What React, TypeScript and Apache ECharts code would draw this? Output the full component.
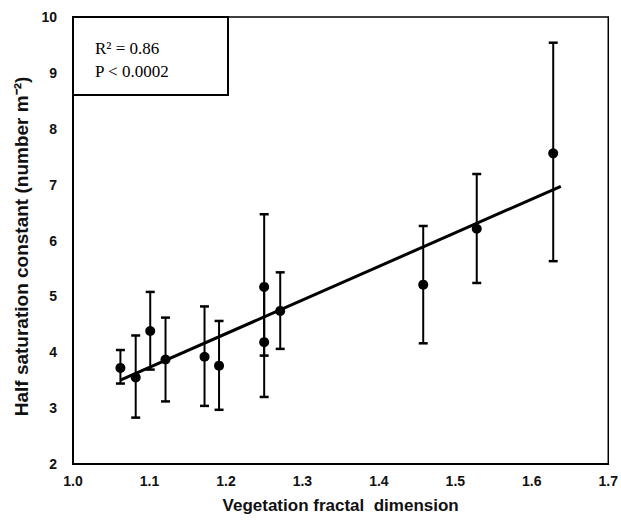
import React, { useEffect, useRef } from "react";
import * as echarts from "echarts";

const xValues = [1.062, 1.082, 1.101, 1.121, 1.172, 1.191, 1.25, 1.25, 1.271, 1.458, 1.528, 1.628];
const yValues = [3.72, 3.55, 4.38, 3.87, 3.92, 3.76, 5.17, 4.18, 4.74, 5.21, 6.21, 7.56];
const errLow = [3.44, 2.83, 3.69, 3.12, 3.04, 2.97, 3.94, 3.2, 4.06, 4.16, 5.24, 5.63];
const errHigh = [4.04, 4.3, 5.08, 4.62, 4.82, 4.56, 6.47, 5.16, 5.43, 6.26, 7.19, 9.54];
const fitX = [1.062, 1.638];
const fitY = [3.5, 6.97];
const statLines = ["R² = 0.86", "P < 0.0002"];

export default function App() {
  const ref = useRef<HTMLDivElement>(null);
  useEffect(() => {
    if (!ref.current) return;
    const chart = echarts.init(ref.current, null, { renderer: "svg" });
    const points = xValues.map((x, i) => [x, yValues[i]]);
    const errData = xValues.map((x, i) => [x, errLow[i], errHigh[i]]);
    const fitData = fitX.map((x, i) => [x, fitY[i]]);
    const sans = "Liberation Sans, Arial, sans-serif";
    const labelFont = { fontFamily: sans, fontWeight: "bold" as const, fontSize: 14, color: "#111" };
    const serifFont = "17px 'Liberation Serif', 'Times New Roman', serif";
    chart.setOption({
      animation: false,
      backgroundColor: "#fff",
      grid: { left: 73, right: 8, top: 17, bottom: 59, show: true, borderColor: "#000", borderWidth: 1.5, backgroundColor: "transparent" },
      xAxis: {
        type: "value",
        min: 1.0,
        max: 1.7,
        interval: 0.1,
        name: "Vegetation fractal  dimension",
        nameLocation: "middle",
        nameGap: 33,
        nameTextStyle: { fontFamily: sans, fontWeight: "bold", fontSize: 17, color: "#111" },
        axisLine: { show: true, lineStyle: { color: "#000", width: 2 } },
        axisTick: { show: false },
        splitLine: { show: false },
        axisLabel: { ...labelFont, margin: 10, formatter: (v: number) => v.toFixed(1) },
      },
      yAxis: {
        type: "value",
        min: 2,
        max: 10,
        interval: 1,
        name: "Half saturation constant (number m⁻²)",
        nameLocation: "middle",
        nameGap: 40,
        nameTextStyle: { fontFamily: sans, fontWeight: "bold", fontSize: 19, color: "#111", padding: [0, 12, 0, 0] },
        axisLine: { show: true, lineStyle: { color: "#000", width: 2 } },
        axisTick: { show: false },
        splitLine: { show: false },
        axisLabel: { ...labelFont, margin: 16 },
      },
      series: [
        {
          type: "line",
          data: fitData,
          symbol: "none",
          lineStyle: { color: "#000", width: 3 },
          z: 3,
        },
        {
          type: "custom",
          data: errData,
          z: 4,
          renderItem: (params: any, api: any) => {
            const x = api.value(0);
            const lo = api.coord([x, api.value(1)]);
            const hi = api.coord([x, api.value(2)]);
            const cw = 4.5;
            const style = { stroke: "#000", lineWidth: 2 };
            return {
              type: "group",
              children: [
                { type: "line", shape: { x1: lo[0], y1: lo[1], x2: hi[0], y2: hi[1] }, style },
                { type: "line", shape: { x1: lo[0] - cw, y1: lo[1], x2: lo[0] + cw, y2: lo[1] }, style: { stroke: "#000", lineWidth: 2.5 } },
                { type: "line", shape: { x1: hi[0] - cw, y1: hi[1], x2: hi[0] + cw, y2: hi[1] }, style: { stroke: "#000", lineWidth: 2.5 } },
              ],
            };
          },
        },
        {
          type: "scatter",
          data: points,
          symbol: "circle",
          symbolSize: 10,
          itemStyle: { color: "#000", opacity: 1 },
          z: 5,
        },
      ],
      graphic: [
        {
          type: "rect",
          shape: { x: 73, y: 17, width: 155, height: 78 },
          style: { fill: "#fff", stroke: "#000", lineWidth: 2 },
          z: 10,
        },
        {
          type: "text",
          x: 95,
          y: 48,
          style: { text: statLines[0], font: serifFont, fill: "#000", verticalAlign: "middle" },
          z: 11,
        },
        {
          type: "text",
          x: 95,
          y: 71,
          style: { text: statLines[1], font: serifFont, fill: "#000", verticalAlign: "middle" },
          z: 11,
        },
      ],
    });
    return () => chart.dispose();
  }, []);
  return <div ref={ref} style={{ position: "fixed", left: 0, top: 0, width: 621, height: 523, background: "#fff" }} />;
}
